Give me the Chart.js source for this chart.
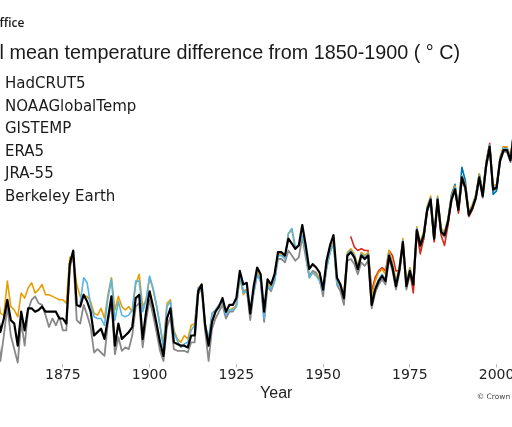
<!DOCTYPE html>
<html>
<head>
<meta charset="utf-8">
<script src="https://cdn.jsdelivr.net/npm/chart.js@4.4.1/dist/chart.umd.min.js"></script>
<style>
  html, body { margin: 0; padding: 0; background: #fff; }
  body { width: 512px; height: 427px; overflow: hidden; position: relative; }
  #wrap { position: absolute; left: -150px; top: 0; width: 800px; height: 427px; }
  .txt { position: absolute; white-space: nowrap; color: #1a1a1a; }
  #brand { left: -80px; width: 104.5px; text-align: right; top: 16.3px; font: 600 12px "Open Sans", sans-serif; line-height: 13px; }
  #title { left: -53.2px; top: 41.8px; font: 19.8px "Liberation Sans", Arial, sans-serif; line-height: 20px; }
  #legend { left: 5px; top: 72.4px; font: 15px "DejaVu Sans", sans-serif; line-height: 22.5px; }
  #legend div { position: relative; }
  #legend .sw { position: absolute; left: -40px; top: 10px; width: 30px; height: 2px; }
  #credit { left: 476.7px; top: 392.4px; font: 7.5px "DejaVu Sans", sans-serif; line-height: 9px; color: #444; }
</style>
</head>
<body>
<div id="wrap"><canvas id="chart" width="800" height="427"></canvas></div>
<div class="txt" id="brand">Met Office</div>
<div class="txt" id="title">Global mean temperature difference from 1850-1900 ( ° C)</div>
<div class="txt" id="legend"></div>
<div class="txt" id="credit">© Crown copyright</div>
<script>
// Annual global mean temperature difference from 1850-1900 (°C)
const firstYear = 1850;
const yearTicks = [1850, 1875, 1900, 1925, 1950, 1975, 2000];

const hadcrut5 = [
  -0.09, 0.10, 0.10, 0.06, 0.04, 0.03, 0.01, -0.13, -0.05, 0.06,
  -0.06, -0.08, -0.21, -0.01, -0.12, 0.01, 0.01, -0.01, 0.00, 0.02,
  -0.01, -0.01, -0.01, -0.01, -0.05, -0.05, -0.08, 0.27, 0.35, 0.03,
  0.02, 0.09, 0.05, -0.01, -0.15, -0.13, -0.11, -0.17, -0.05, 0.08,
  -0.21, -0.08, -0.17, -0.15, -0.13, -0.10, 0.07, 0.09, -0.17, -0.01,
  0.11, 0.02, -0.08, -0.19, -0.27, -0.05, 0.01, -0.19, -0.20, -0.21,
  -0.21, -0.22, -0.15, -0.15, 0.11, 0.15, -0.09, -0.21, -0.07, -0.01,
  0.02, 0.07, -0.01, 0.03, 0.03, 0.07, 0.23, 0.15, 0.16, -0.02,
  0.14, 0.25, 0.21, -0.01, 0.18, 0.15, 0.21, 0.34, 0.34, 0.32,
  0.42, 0.39, 0.36, 0.38, 0.50, 0.38, 0.24, 0.27, 0.25, 0.22,
  0.12, 0.29, 0.38, 0.44, 0.19, 0.15, 0.07, 0.32, 0.34, 0.31,
  0.24, 0.32, 0.30, 0.32, 0.03, 0.12, 0.17, 0.20, 0.17, 0.32,
  0.25, 0.14, 0.24, 0.40, 0.14, 0.23, 0.15, 0.47, 0.38, 0.44,
  0.59, 0.65, 0.42, 0.65, 0.46, 0.44, 0.52, 0.65, 0.71, 0.59,
  0.78, 0.72, 0.56, 0.60, 0.66, 0.78, 0.67, 0.85, 0.96, 0.71,
  0.72, 0.88, 0.94, 0.94, 0.88, 1.04, 0.99, 1.00, 0.89, 1.01,
  1.07, 0.95, 0.99, 1.04, 1.11, 1.28, 1.38, 1.29, 1.21, 1.34,
  1.35, 1.22, 1.24, 1.49
];

const noaaGlobalTemp = [
  0.03, 0.22, 0.22, 0.18, 0.16, 0.15, 0.13, -0.02, -0.03, 0.17,
  0.02, 0.00, -0.04, 0.10, 0.07, 0.13, 0.16, 0.10, 0.12, 0.15,
  0.09, 0.09, 0.08, 0.07, 0.06, 0.06, 0.04, 0.31, 0.31, 0.15,
  0.08, 0.08, 0.08, 0.05, -0.02, -0.03, 0.01, -0.05, 0.09, 0.19,
  0.00, 0.08, 0.02, 0.00, 0.02, -0.01, 0.15, 0.21, 0.02, 0.06,
  0.19, 0.12, 0.02, -0.09, -0.21, 0.04, 0.06, -0.12, -0.17, -0.19,
  -0.15, -0.17, -0.09, -0.08, 0.13, 0.15, -0.08, -0.18, -0.02, 0.00,
  0.03, 0.04, -0.02, 0.00, 0.01, 0.02, 0.20, 0.09, 0.12, -0.01,
  0.12, 0.23, 0.19, -0.03, 0.16, 0.13, 0.19, 0.33, 0.33, 0.31,
  0.45, 0.47, 0.36, 0.38, 0.44, 0.34, 0.19, 0.22, 0.21, 0.18,
  0.12, 0.25, 0.34, 0.40, 0.16, 0.15, 0.09, 0.34, 0.36, 0.33,
  0.26, 0.34, 0.32, 0.34, 0.08, 0.17, 0.22, 0.24, 0.21, 0.35,
  0.28, 0.17, 0.26, 0.42, 0.16, 0.25, 0.17, 0.49, 0.40, 0.46,
  0.61, 0.67, 0.44, 0.67, 0.48, 0.46, 0.54, 0.67, 0.73, 0.61,
  0.79, 0.74, 0.58, 0.62, 0.68, 0.80, 0.69, 0.87, 0.97, 0.73,
  0.74, 0.90, 0.96, 0.96, 0.90, 1.05, 1.00, 1.01, 0.90, 1.02,
  1.08, 0.96, 1.00, 1.05, 1.12, 1.29, 1.39, 1.30, 1.22, 1.35,
  1.36, 1.23, 1.25, 1.50
];

const gistempStart = 1880;
const gistemp = [
  0.04, 0.19, 0.16, 0.03, -0.04, -0.05, -0.05, -0.09, 0.07, 0.18,
  -0.06, 0.05, -0.03, -0.04, -0.03, 0.00, 0.17, 0.17, -0.01, 0.06,
  0.20, 0.13, 0.03, -0.09, -0.23, 0.02, 0.05, -0.13, -0.18, -0.22,
  -0.20, -0.19, -0.12, -0.09, 0.13, 0.14, -0.08, -0.17, -0.02, 0.00,
  0.03, 0.05, -0.03, 0.00, 0.00, 0.02, 0.21, 0.10, 0.11, -0.01,
  0.10, 0.21, 0.17, -0.05, 0.15, 0.12, 0.17, 0.32, 0.32, 0.30,
  0.45, 0.48, 0.37, 0.38, 0.44, 0.34, 0.19, 0.22, 0.20, 0.17,
  0.11, 0.24, 0.34, 0.39, 0.15, 0.14, 0.08, 0.33, 0.35, 0.32,
  0.25, 0.33, 0.31, 0.33, 0.04, 0.13, 0.18, 0.21, 0.18, 0.33,
  0.26, 0.15, 0.25, 0.41, 0.15, 0.24, 0.16, 0.48, 0.39, 0.45,
  0.60, 0.66, 0.43, 0.66, 0.47, 0.45, 0.53, 0.66, 0.72, 0.60,
  0.79, 0.73, 0.57, 0.61, 0.67, 0.79, 0.68, 0.86, 0.97, 0.72,
  0.73, 0.89, 0.95, 0.95, 0.89, 1.06, 1.01, 1.02, 0.91, 1.03,
  1.09, 0.97, 1.01, 1.06, 1.13, 1.30, 1.40, 1.31, 1.23, 1.36,
  1.37, 1.24, 1.26, 1.51
];

const era5Start = 1979;
const era5 = [
  0.43,
  0.58, 0.64, 0.42, 0.66, 0.47, 0.45, 0.53, 0.68, 0.74, 0.60,
  0.84, 0.76, 0.56, 0.60, 0.67, 0.80, 0.69, 0.87, 0.97, 0.68,
  0.70, 0.88, 0.95, 0.95, 0.89, 1.07, 1.02, 1.03, 0.92, 1.04,
  1.10, 0.98, 1.02, 1.07, 1.14, 1.31, 1.41, 1.32, 1.24, 1.37,
  1.38, 1.25, 1.27, 1.52
];

const jra55Start = 1958;
const jra55 = [
  0.43, 0.37,
  0.35, 0.36, 0.35, 0.35, 0.11, 0.19, 0.23, 0.25, 0.23, 0.35,
  0.32, 0.23, 0.23, 0.39, 0.15, 0.23, 0.10, 0.46, 0.33, 0.42,
  0.60, 0.62, 0.40, 0.63, 0.44, 0.38, 0.50, 0.66, 0.72, 0.57,
  0.76, 0.72, 0.55, 0.59, 0.66, 0.79, 0.68, 0.87, 0.98, 0.71,
  0.72, 0.89, 0.96, 0.95, 0.90, 1.05, 1.00, 1.00, 0.90, 1.03,
  1.08, 0.96, 1.00, 1.05, 1.12, 1.29, 1.39, 1.30, 1.23, 1.35,
  1.36, 1.23, 1.26, 1.48
];

const berkeleyEarth = [
  -0.15, 0.04, 0.04, 0.00, -0.02, -0.03, -0.05, -0.30, -0.15, 0.02,
  -0.15, -0.23, -0.31, -0.07, -0.21, 0.00, 0.06, 0.08, 0.04, 0.03,
  -0.03, -0.10, -0.05, -0.09, -0.04, -0.12, -0.12, 0.25, 0.32, -0.06,
  -0.08, 0.03, -0.03, -0.10, -0.25, -0.23, -0.25, -0.27, -0.07, 0.05,
  -0.26, -0.16, -0.24, -0.22, -0.23, -0.15, 0.02, 0.04, -0.22, -0.06,
  0.06, -0.03, -0.13, -0.24, -0.30, -0.10, -0.04, -0.23, -0.24, -0.24,
  -0.24, -0.25, -0.19, -0.19, 0.09, 0.13, -0.12, -0.30, -0.11, -0.05,
  -0.01, 0.03, -0.05, -0.01, -0.01, 0.03, 0.20, 0.11, 0.12, -0.06,
  0.10, 0.21, 0.17, -0.07, 0.14, 0.11, 0.17, 0.30, 0.30, 0.28,
  0.35, 0.32, 0.29, 0.31, 0.43, 0.31, 0.20, 0.23, 0.22, 0.18,
  0.08, 0.26, 0.34, 0.40, 0.15, 0.11, 0.03, 0.29, 0.30, 0.27,
  0.21, 0.28, 0.26, 0.29, 0.01, 0.10, 0.15, 0.18, 0.15, 0.30,
  0.23, 0.12, 0.22, 0.38, 0.12, 0.21, 0.13, 0.45, 0.36, 0.42,
  0.58, 0.64, 0.41, 0.64, 0.45, 0.43, 0.51, 0.64, 0.70, 0.58,
  0.77, 0.71, 0.55, 0.59, 0.65, 0.77, 0.66, 0.84, 0.95, 0.70,
  0.71, 0.87, 0.93, 0.93, 0.87, 1.03, 0.98, 0.99, 0.88, 1.00,
  1.06, 0.94, 0.98, 1.03, 1.10, 1.27, 1.37, 1.28, 1.20, 1.33,
  1.34, 1.21, 1.23, 1.48
];

// legend order; lower "order" is drawn on top
const series = [
  { label: 'HadCRUT5', start: firstYear, values: hadcrut5, color: '#000000', width: 2.2, order: 0 },
  { label: 'NOAAGlobalTemp', start: firstYear, values: noaaGlobalTemp, color: '#E69F00', width: 1.6, order: 3 },
  { label: 'GISTEMP', start: gistempStart, values: gistemp, color: '#56B4E9', width: 1.6, order: 2 },
  { label: 'ERA5', start: era5Start, values: era5, color: '#0072B2', width: 1.6, order: 4 },
  { label: 'JRA-55', start: jra55Start, values: jra55, color: '#D52B1E', width: 1.6, order: 5 },
  { label: 'Berkeley Earth', start: firstYear, values: berkeleyEarth, color: '#888888', width: 1.8, order: 6 }
];

// HTML legend (the handles sit off the left edge, as in the cropped original)
const legendEl = document.getElementById('legend');
series.forEach(s => {
  const row = document.createElement('div');
  const sw = document.createElement('span');
  sw.className = 'sw';
  sw.style.background = s.color;
  row.appendChild(sw);
  row.appendChild(document.createTextNode(s.label));
  legendEl.appendChild(row);
});

const ctx = document.getElementById('chart').getContext('2d');
const chart = new Chart(ctx, {
  type: 'line',
  data: {
    datasets: series.map(s => ({
      label: s.label,
      data: s.values.map((v, i) => ({ x: s.start + i, y: v })),
      borderColor: s.color,
      backgroundColor: s.color,
      borderWidth: s.width,
      order: s.order,
      clip: false,
      fill: false
    }))
  },
  options: {
    responsive: false,
    animation: false,
    devicePixelRatio: 1,
    layout: { padding: { left: 126.1, right: 73.6, top: 38, bottom: 23.6 } },
    elements: {
      point: { radius: 0 },
      line: { tension: 0, borderJoinStyle: 'round', borderCapStyle: 'round' }
    },
    plugins: {
      legend: { display: false },
      tooltip: { enabled: false }
    },
    scales: {
      x: {
        type: 'linear',
        min: 1850,
        max: 2023,
        afterBuildTicks: function(scale) {
          scale.ticks = yearTicks.map(v => ({ value: v }));
        },
        ticks: {
          callback: function(value) { return String(value); },
          font: { family: 'DejaVu Sans', size: 14 },
          color: '#222222',
          padding: 0,
          maxRotation: 0,
          autoSkip: false
        },
        grid: { drawOnChartArea: false, drawTicks: true, tickLength: 3, color: '#bbbbbb' },
        border: { display: false },
        title: {
          display: true,
          text: 'Year',
          font: { family: 'Liberation Sans', size: 16 },
          color: '#222222',
          padding: { top: 0, bottom: 0 }
        }
      },
      y: { display: false, min: -0.32, max: 1.6 }
    }
  }
});
</script>
</body>
</html>
